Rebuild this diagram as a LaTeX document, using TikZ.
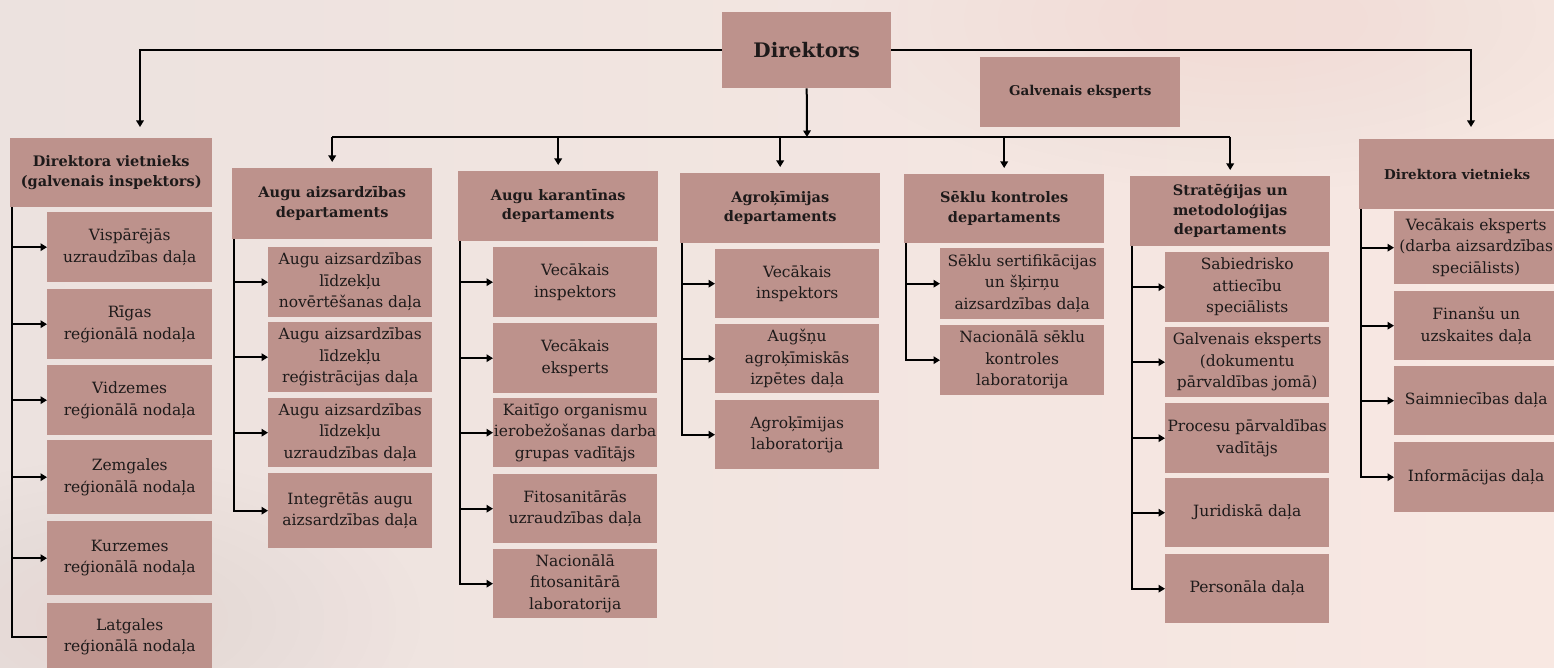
\documentclass[tikz,border=0pt]{standalone}
\usepackage{fontspec}
\setmainfont{DejaVu Serif}
\usetikzlibrary{arrows.meta}
\definecolor{boxc}{HTML}{BD928C}
\definecolor{bgL}{HTML}{ECE2DF}
\definecolor{bgM}{HTML}{F7F2F1}
\definecolor{bgR}{HTML}{F8E8E2}
\definecolor{blobA}{HTML}{F2D6CC}
\definecolor{blobB}{HTML}{E6D4CF}
\definecolor{ink}{HTML}{1E1A1A}
\begin{document}
\begin{tikzpicture}[x=1pt,y=-1pt,
  box/.style={fill=boxc, inner sep=0pt, align=center, anchor=north west, text=ink},
  title/.style={box, minimum width=200pt, font=\bfseries\fontsize{14.5}{19.5}\selectfont},
  unit/.style={box, minimum width=164pt, font=\fontsize{15.5}{21.5}\selectfont},
  conn/.style={line width=2pt, draw=black},
  arr/.style={conn, -{Triangle[length=6.5pt,width=7.5pt]}},
]
\useasboundingbox (0,0) rectangle (1554,668);
\clip (0,0) rectangle (1554,668);
% background
\shade[left color=bgL, middle color=bgM, right color=bgR] (0,0) rectangle (1554,668);
\foreach \r in {1,0.92,...,0.2}{
  \fill[blobA, opacity=0.035] (1250,20) ellipse ({420*\r} and {170*\r});
  \fill[blobB, opacity=0.035] (120,620) ellipse ({300*\r} and {160*\r});
}

% top level
\node[box, minimum width=169pt, minimum height=76pt, font=\bfseries\fontsize{20}{24}\selectfont] (dir) at (722,12) {Direktors};
\node[box, minimum width=200pt, minimum height=70pt, font=\bfseries\fontsize{13.5}{17}\selectfont] (ge) at (980,57) {Galvenais eksperts};

% deputies
\node[title, minimum width=202pt, minimum height=69pt] (dvl) at (10,138) {Direktora vietnieks\\(galvenais inspektors)};
\node[title, minimum width=196pt, minimum height=70pt, font=\bfseries\fontsize{13.5}{18}\selectfont] (dvr) at (1359,139) {Direktora vietnieks};

% departments
\node[title, minimum height=71pt] (A) at (232,168) {Augu aizsardzības\\departaments};
\node[title, minimum height=70pt] (K) at (458,171) {Augu karantīnas\\departaments};
\node[title, minimum height=70pt] (G) at (680,173) {Agroķīmijas\\departaments};
\node[title, minimum height=69pt] (S) at (904,174) {Sēklu kontroles\\departaments};
\node[title, minimum height=70pt] (T) at (1130,176) {Stratēģijas un\\metodoloģijas\\departaments};

% left deputy units
\node[unit, minimum width=165pt, minimum height=70pt] (l1) at (47,212) {Vispārējās\\uzraudzības daļa};
\node[unit, minimum width=165pt, minimum height=70pt] (l2) at (47,289) {Rīgas\\reģionālā nodaļa};
\node[unit, minimum width=165pt, minimum height=70pt] (l3) at (47,365) {Vidzemes\\reģionālā nodaļa};
\node[unit, minimum width=165pt, minimum height=74pt] (l4) at (47,440) {Zemgales\\reģionālā nodaļa};
\node[unit, minimum width=165pt, minimum height=74pt] (l5) at (47,521) {Kurzemes\\reģionālā nodaļa};
\node[unit, minimum width=165pt, minimum height=67pt] (l6) at (47,603) {Latgales\\reģionālā nodaļa};

% A units
\node[unit, minimum height=70pt] (a1) at (268,247) {Augu aizsardzības\\līdzekļu\\novērtēšanas daļa};
\node[unit, minimum height=70pt] (a2) at (268,322) {Augu aizsardzības\\līdzekļu\\reģistrācijas daļa};
\node[unit, minimum height=69pt] (a3) at (268,398) {Augu aizsardzības\\līdzekļu\\uzraudzības daļa};
\node[unit, minimum height=75pt] (a4) at (268,473) {Integrētās augu\\aizsardzības daļa};

% K units
\node[unit, minimum height=70pt] (k1) at (493,247) {Vecākais\\inspektors};
\node[unit, minimum height=70pt] (k2) at (493,323) {Vecākais\\eksperts};
\node[unit, minimum height=69pt] (k3) at (493,398) {Kaitīgo organismu\\ierobežošanas darba\\grupas vadītājs};
\node[unit, minimum height=69pt] (k4) at (493,474) {Fitosanitārās\\uzraudzības daļa};
\node[unit, minimum height=69pt] (k5) at (493,549) {Nacionālā\\fitosanitārā\\laboratorija};

% G units
\node[unit, minimum height=69pt] (g1) at (715,249) {Vecākais\\inspektors};
\node[unit, minimum height=69pt] (g2) at (715,324) {Augšņu\\agroķīmiskās\\izpētes daļa};
\node[unit, minimum height=69pt] (g3) at (715,400) {Agroķīmijas\\laboratorija};

% S units
\node[unit, minimum height=71pt] (s1) at (940,248) {Sēklu sertifikācijas\\un šķirņu\\aizsardzības daļa};
\node[unit, minimum height=70pt] (s2) at (940,325) {Nacionālā sēklu\\kontroles\\laboratorija};

% T units
\node[unit, minimum height=70pt] (t1) at (1165,252) {Sabiedrisko\\attiecību\\speciālists};
\node[unit, minimum height=70pt] (t2) at (1165,327) {Galvenais eksperts\\(dokumentu\\pārvaldības jomā)};
\node[unit, minimum height=70pt] (t3) at (1165,403) {Procesu pārvaldības\\vadītājs};
\node[unit, minimum height=69pt] (t4) at (1165,478) {Juridiskā daļa};
\node[unit, minimum height=69pt] (t5) at (1165,554) {Personāla daļa};

% right deputy units
\node[unit, minimum height=73pt] (r1) at (1394,211) {Vecākais eksperts\\(darba aizsardzības\\speciālists)};
\node[unit, minimum height=69pt] (r2) at (1394,291) {Finanšu un\\uzskaites daļa};
\node[unit, minimum height=69pt] (r3) at (1394,366) {Saimniecības daļa};
\node[unit, minimum height=70pt] (r4) at (1394,442) {Informācijas daļa};

% top connectors
\coordinate (tl) at (140,127);
\coordinate (tr) at (1471,127);
\coordinate (hub) at (807,137);
\draw[arr] (dir.west) -| (tl);
\draw[arr] (dir.east) -| (tr);
\draw[arr] (dir.south) -- (hub);
\draw[conn] (A.north |- hub) -- (T.north |- hub);
\foreach \d in {A,K,G,S,T}{
  \draw[arr, shorten >=6pt] (\d.north |- hub) -- (\d.north);
}

% child connectors
\foreach \p in {dvl,A,K,G,S,T,dvr}{
  \coordinate (\p v) at ([xshift=2pt]\p.south west);
}
\draw[conn] (dvlv) |- (l6.west);
\foreach \c in {l1,l2,l3,l4,l5}{\draw[arr] (dvlv |- \c.west) -- (\c.west);}
\draw[arr] (Av) |- (a4.west);
\foreach \c in {a1,a2,a3}{\draw[arr] (Av |- \c.west) -- (\c.west);}
\draw[arr] (Kv) |- (k5.west);
\foreach \c in {k1,k2,k3,k4}{\draw[arr] (Kv |- \c.west) -- (\c.west);}
\draw[arr] (Gv) |- (g3.west);
\foreach \c in {g1,g2}{\draw[arr] (Gv |- \c.west) -- (\c.west);}
\draw[arr] (Sv) |- (s2.west);
\foreach \c in {s1}{\draw[arr] (Sv |- \c.west) -- (\c.west);}
\draw[arr] (Tv) |- (t5.west);
\foreach \c in {t1,t2,t3,t4}{\draw[arr] (Tv |- \c.west) -- (\c.west);}
\draw[arr] (dvrv) |- (r4.west);
\foreach \c in {r1,r2,r3}{\draw[arr] (dvrv |- \c.west) -- (\c.west);}
\end{tikzpicture}
\end{document}
